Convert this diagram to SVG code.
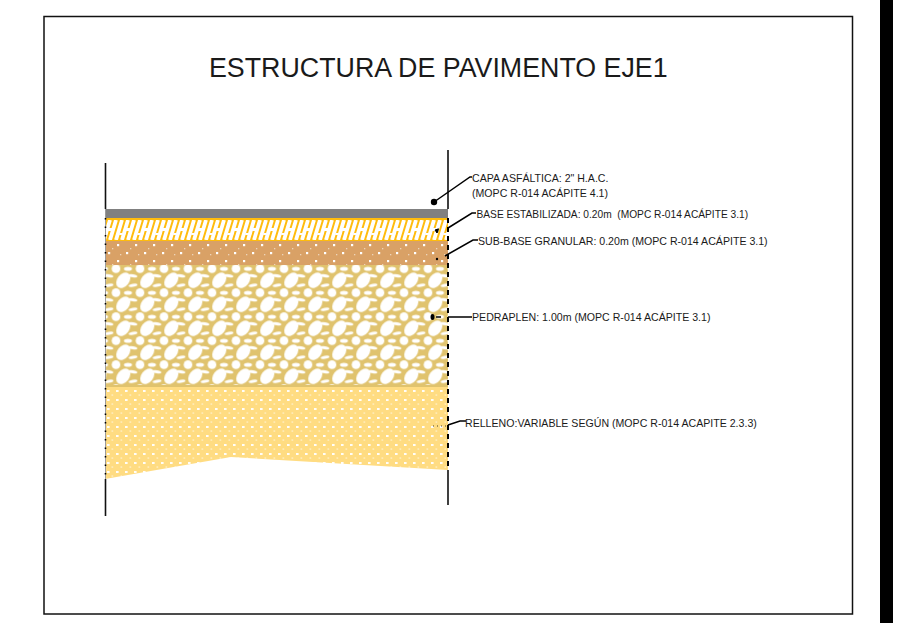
<svg xmlns="http://www.w3.org/2000/svg" width="900" height="623" viewBox="0 0 900 623">
<style>
text{font-family:"Liberation Sans",Arial,sans-serif;fill:#1a1a1a}
.lbl{font-size:10.6px}
.lead{fill:none;stroke:#000;stroke-width:1.5}
.wall{stroke:#111;stroke-width:1.6;fill:none}
.tick{stroke:#000;stroke-width:2;stroke-dasharray:5 4;fill:none}
.tickl{stroke:#000;stroke-width:1.600;stroke-dasharray:1.500 7;fill:none}
</style>
<defs>
<pattern id="hatch" patternUnits="userSpaceOnUse" x="105" y="220" width="18" height="20">
<rect width="18" height="20" fill="#FFBC0D"/>
<g stroke="#fff" stroke-width="3.8" fill="none">
<path d="M-1 20L5 0M5 20L11 0M11 20L17 0M17 20L23 0M-7 20L-1 0"/>
</g>
<path d="M3 8L9 8L8 11L2 11ZM15 13L21 13L20 15L14 15ZM-3 13L3 13L2 15L-4 15Z" fill="#fff"/>
</pattern>
<pattern id="tan" patternUnits="userSpaceOnUse" x="105" y="241" width="18" height="16">
<rect width="18" height="16" fill="#D9A166"/>
<g fill="#fff">
<rect x="3" y="11" width="2.200" height="2.200"/><rect x="12" y="3" width="2.200" height="2.200"/>
</g>
<g fill="#fff" opacity=".55">
<rect x="7" y="7" width="1.300" height="1.300"/><rect x="15" y="13" width="1.300" height="1.300"/>
</g>
</pattern>
<pattern id="rock" patternUnits="userSpaceOnUse" x="111.3" y="268.3" width="24" height="24">
<rect width="24" height="24" fill="#E0C36E"/>
<g fill="#fff">
<ellipse cx="12" cy="12" rx="8.600" ry="6" transform="rotate(-52 12 12)"/>
<circle cx="4.7" cy="0.4" r="4.300"/><circle cx="4.7" cy="24.4" r="4.300"/>
<ellipse cx="16.7" cy="0.4" rx="4" ry="2"/><ellipse cx="16.7" cy="24.4" rx="4" ry="2"/>
<ellipse cx="21.7" cy="17" rx="4.400" ry="1.500" transform="rotate(-10 21.7 17)"/><ellipse cx="-2.3" cy="17" rx="4.400" ry="1.500" transform="rotate(-10 -2.3 17)"/>
<ellipse cx="21.7" cy="7.500" rx="4.400" ry="1.500" transform="rotate(10 21.7 7.500)"/><ellipse cx="-2.3" cy="7.500" rx="4.400" ry="1.500" transform="rotate(10 -2.3 7.500)"/>
</g>
</pattern>
<pattern id="fill" patternUnits="userSpaceOnUse" x="105" y="388" width="9" height="9">
<rect width="9" height="9" fill="#FFDC82"/>
<rect x="2" y="2" width="2.600" height="2" fill="#fff" opacity=".95"/>
<rect x="6.500" y="6.500" width="1.700" height="1.100" fill="#fff" opacity=".65"/>
</pattern>
</defs>
<rect width="900" height="623" fill="#fff"/>
<rect id="sheet" x="44" y="16.5" width="808.5" height="597.5" fill="none" stroke="#111" stroke-width="1.5"/>
<rect id="edge-bar" x="880" y="0" width="13" height="623" fill="#000"/>
<text id="title" x="209" y="77" font-size="26.8">ESTRUCTURA DE PAVIMENTO EJE1</text>
<g id="layers">
<rect id="capa" x="105" y="209" width="343" height="9" fill="#808080"/>
<rect id="base" x="105" y="218" width="343" height="23" fill="url(#hatch)"/>
<rect x="105" y="218" width="343" height="2" fill="#FFBC0D"/>
<rect x="105" y="240" width="343" height="1.5" fill="#FFBC0D"/>
<rect id="subbase" x="105" y="241" width="343" height="24" fill="url(#tan)"/>
<rect id="pedraplen" x="105" y="265" width="343" height="120" fill="url(#rock)"/>
<rect x="105" y="385" width="343" height="2" fill="#E0C36E"/>
<polygon id="relleno" points="105,387 448,387 448,470 231,457 105,479" fill="url(#fill)"/>
</g>
<g id="walls">
<path class="wall" d="M105.5 163V209M105.5 479V516M448 150V209M448 470V505"/>
<path d="M105.500 209V479" stroke="#9a9a9a" fill="none"/>
<path class="tickl" d="M105.500 218V479"/>
<path class="tick" d="M448 218V470"/>
</g>
<g id="connectors">
<circle cx="434" cy="202" r="3.2" fill="#000"/>
<path class="lead" d="M434 202L470 177H472"/>
<path class="lead" d="M448 228L472 213H476"/>
<path d="M435 230l3-1-1 4zM438.500 228.500l-1 4" fill="#000" stroke="#000"/>
<path class="lead" d="M445 256L473 240H478"/>
<circle cx="437" cy="259" r="1.200" fill="#000"/>
<ellipse cx="432.500" cy="317" rx="2" ry="3" fill="#000"/>
<path class="lead" d="M436 317H441M448 317H472"/>
<path d="M433 426L448 426" fill="none" stroke="#000" stroke-width=".7" stroke-dasharray="1 3"/>
<path class="lead" d="M448 425L460 421H466"/>
</g>
<g id="label-capa">
<text class="lbl" x="472" y="182">CAPA ASFÁLTICA: 2" H.A.C.</text>
<text class="lbl" x="472" y="197">(MOPC R-014 ACÁPITE 4.1)</text>
</g>
<g id="label-base"><text x="476.500" y="218" font-size="10.2" xml:space="preserve">BASE ESTABILIZADA: 0.20m  (MOPC R-014 ACÁPITE 3.1)</text></g>
<g id="label-subbase"><text class="lbl" x="478" y="245">SUB-BASE GRANULAR: 0.20m (MOPC R-014 ACÁPITE 3.1)</text></g>
<g id="label-pedraplen"><text class="lbl" x="472" y="321">PEDRAPLEN: 1.00m (MOPC R-014 ACÁPITE 3.1)</text></g>
<g id="label-relleno"><text class="lbl" x="465" y="427">RELLENO:VARIABLE SEGÚN (MOPC R-014 ACAPITE 2.3.3)</text></g>
</svg>
